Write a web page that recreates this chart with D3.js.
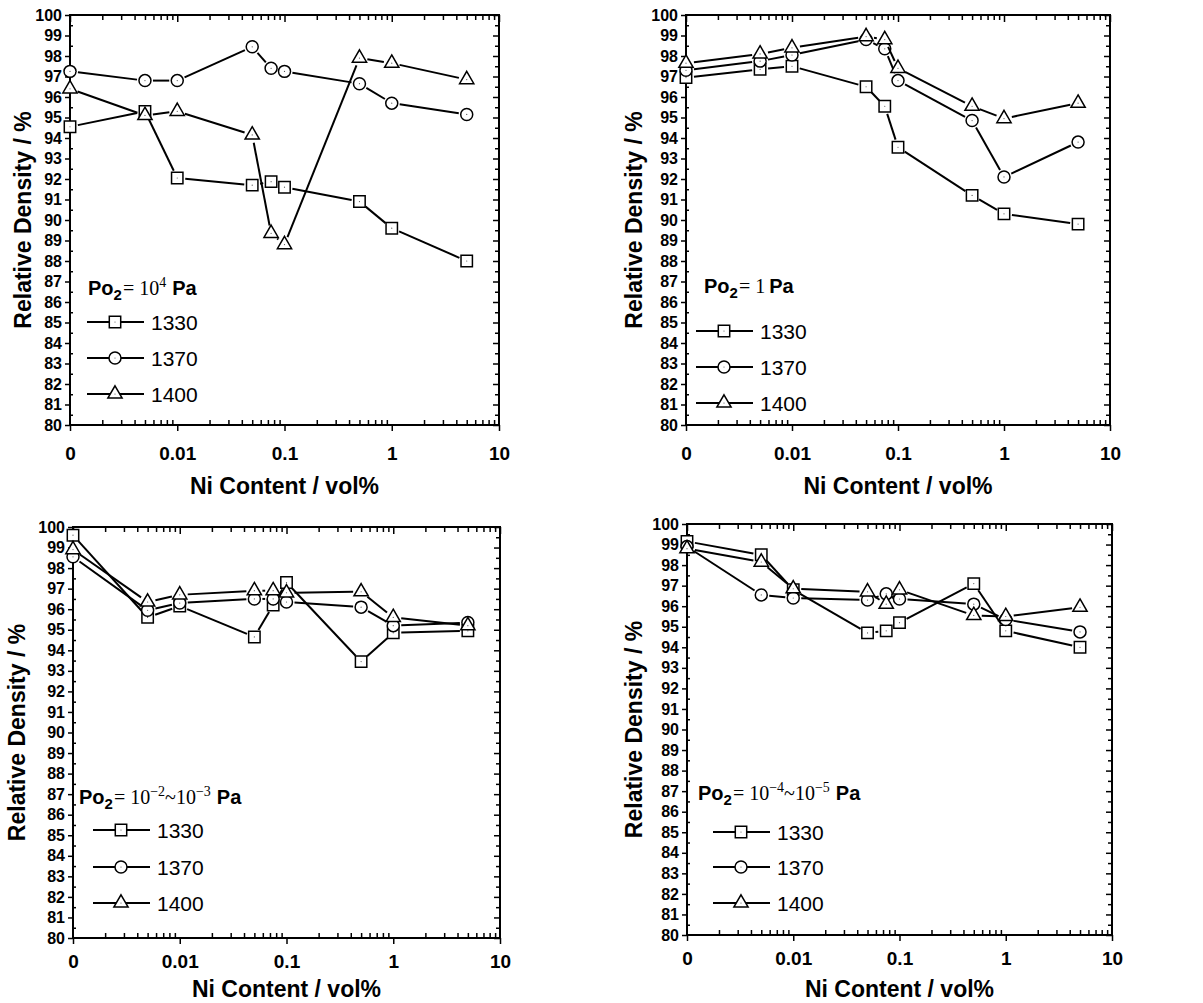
<!DOCTYPE html>
<html lang="en">
<head>
    <meta charset="UTF-8">
    <title>Relative Density vs Ni Content</title>
    <script src="https://d3js.org/d3.v7.min.js"></script>
    <style>
        body { margin: 0; background: #fff; }
        svg { display: block; }
        .tick text { font-family: "Liberation Sans", Arial, sans-serif; font-weight: bold; fill: #000; }
    </style>
</head>
<body>
    <div id="chart"></div>

    <script>
        // Ni content (vol%); 0 is drawn at the left edge (0.001 on the log axis)
        const niContent = [0, 0.005, 0.01, 0.05, 0.075, 0.1, 0.5, 1, 5];
        const temperatures = ["1330", "1370", "1400"];
        const xTickValues = [0.001, 0.01, 0.1, 1, 10];
        const xTickLabels = ["0", "0.01", "0.1", "1", "10"];
        const yTickValues = d3.range(80, 101, 1);

        // Po2 = 10^4 Pa
        const hi_1330 = [94.55, 95.3, 92.05, 91.7, 91.87, 91.6, 90.9, 89.6, 88.0];
        const hi_1370 = [97.25, 96.8, 96.8, 98.45, 97.4, 97.25, 96.65, 95.7, 95.15];
        const hi_1400 = [96.4, 95.1, 95.3, 94.15, 89.35, 88.8, 97.9, 97.65, 96.85];

        // Po2 = 1 Pa
        const one_1330 = [96.95, 97.35, 97.5, 96.5, 95.55, 93.55, 91.2, 90.3, 89.8];
        const one_1370 = [97.3, 97.75, 98.05, 98.8, 98.35, 96.8, 94.85, 92.1, 93.8];
        const one_1400 = [97.65, 98.1, 98.4, 98.95, 98.8, 97.4, 95.55, 94.95, 95.7];

        // Po2 = 10^-2 ~ 10^-3 Pa
        const mid_1330 = [99.6, 95.6, 96.15, 94.65, 96.2, 97.3, 93.45, 94.85, 94.95];
        const mid_1370 = [98.55, 95.95, 96.3, 96.5, 96.5, 96.35, 96.1, 95.2, 95.35];
        const mid_1400 = [98.9, 96.35, 96.7, 96.9, 96.9, 96.8, 96.85, 95.6, 95.2];

        // Po2 = 10^-4 ~ 10^-5 Pa
        const low_1330 = [99.15, 98.5, 96.8, 94.7, 94.8, 95.2, 97.1, 94.8, 94.0];
        const low_1370 = [98.9, 96.55, 96.4, 96.3, 96.6, 96.35, 96.1, 95.35, 94.75];
        const low_1400 = [98.8, 98.15, 96.85, 96.7, 96.1, 96.8, 95.55, 95.5, 95.95];

        const sans = "'Liberation Sans', Arial, sans-serif";
        const serif = "'Liberation Serif', 'Times New Roman', serif";

        const panels = [
            {
                left: 70, right: 499, top: 15, bottom: 425,
                series: [hi_1330, hi_1370, hi_1400],
                title: ["10", "4", "", ""], titleX: 88, titleY: 295,
                legX: 87, legYs: [322, 358, 394],
                tickPad: 16, xLabelY: 494, yLabelX: 31
            },
            {
                left: 686, right: 1110, top: 15, bottom: 425,
                series: [one_1330, one_1370, one_1400],
                title: ["1", "", "", ""], titleX: 704, titleY: 293,
                legX: 696, legYs: [331, 367, 403],
                tickPad: 16, xLabelY: 494, yLabelX: 642
            },
            {
                left: 73, right: 500, top: 527, bottom: 938,
                series: [mid_1330, mid_1370, mid_1400],
                title: ["10", "\u22122", "~10", "\u22123"], titleX: 79, titleY: 804,
                legX: 93, legYs: [830, 867, 903],
                tickPad: 11, xLabelY: 997, yLabelX: 25
            },
            {
                left: 687, right: 1112, top: 524, bottom: 935,
                series: [low_1330, low_1370, low_1400],
                title: ["10", "\u22124", "~10", "\u22125"], titleX: 698, titleY: 800,
                legX: 713, legYs: [832, 867, 903],
                tickPad: 11, xLabelY: 997, yLabelX: 642
            }
        ];

        const symbols = [
            d3.symbol().type(d3.symbolSquare).size(130),
            d3.symbol().type(d3.symbolCircle).size(113),
            d3.symbol().type(d3.symbolTriangle).size(88)
        ];

        const svg = d3.select("#chart")
            .append("svg")
            .attr("width", 1203)
            .attr("height", 1003);

        svg.append("rect").attr("width", 1203).attr("height", 1003).attr("fill", "#fff");

        // minor x ticks: 2..9 within every decade
        const xMinor = [];
        [0.001, 0.01, 0.1, 1].forEach(d => {
            for (let k = 2; k <= 9; k++) xMinor.push(d * k);
        });
        const yMinor = d3.range(80.5, 100, 1);

        function drawMarker(g, i, x, y) {
            g.append("path")
                .attr("d", symbols[i]())
                .attr("transform", `translate(${x},${y})`)
                .attr("fill", "#fff")
                .attr("stroke", "#000")
                .attr("stroke-width", 1.5);
            g.append("circle")
                .attr("cx", x).attr("cy", y).attr("r", 0.6)
                .attr("fill", "#555");
        }

        panels.forEach(p => {
            const x = d3.scaleLog().domain([0.001, 10]).range([p.left, p.right]);
            const y = d3.scaleLinear().domain([80, 100]).range([p.bottom, p.top]);
            const g = svg.append("g");

            // axes
            g.append("g")
                .attr("transform", `translate(0,${p.bottom})`)
                .call(d3.axisBottom(x).tickValues(xTickValues).tickSize(6).tickPadding(p.tickPad)
                    .tickFormat((d, i) => xTickLabels[i]))
                .call(a => a.selectAll("text").style("font-size", "19px"));
            g.append("g")
                .attr("transform", `translate(0,${p.bottom})`)
                .call(d3.axisBottom(x).tickValues(xMinor).tickSize(-5).tickFormat(""));
            g.append("g")
                .attr("transform", `translate(0,${p.top})`)
                .call(d3.axisTop(x).tickValues(xTickValues).tickSize(-7).tickFormat(""));
            g.append("g")
                .attr("transform", `translate(0,${p.top})`)
                .call(d3.axisTop(x).tickValues(xMinor).tickSize(-5).tickFormat(""));
            g.append("g")
                .attr("transform", `translate(${p.left},0)`)
                .call(d3.axisLeft(y).tickValues(yTickValues).tickSize(5).tickPadding(3))
                .call(a => a.selectAll("text").style("font-size", "16px"));
            g.append("g")
                .attr("transform", `translate(${p.left},0)`)
                .call(d3.axisLeft(y).tickValues(yMinor).tickSize(-3).tickFormat(""));
            g.append("g")
                .attr("transform", `translate(${p.right},0)`)
                .call(d3.axisRight(y).tickValues(yTickValues).tickSize(-6).tickFormat(""));
            g.append("g")
                .attr("transform", `translate(${p.right},0)`)
                .call(d3.axisRight(y).tickValues(yMinor).tickSize(-4).tickFormat(""));

            g.selectAll(".domain").remove();
            g.selectAll(".tick line").attr("stroke", "#000").attr("stroke-width", 1.5);

            g.append("rect")
                .attr("x", p.left).attr("y", p.top)
                .attr("width", p.right - p.left).attr("height", p.bottom - p.top)
                .attr("fill", "none").attr("stroke", "#000").attr("stroke-width", 2);

            // axis titles
            g.append("text")
                .attr("x", (p.left + p.right) / 2).attr("y", p.xLabelY)
                .attr("text-anchor", "middle")
                .style("font-family", sans).style("font-weight", "bold").style("font-size", "23px")
                .text("Ni Content / vol%");
            g.append("text")
                .attr("transform", `translate(${p.yLabelX},${(p.top + p.bottom) / 2}) rotate(-90)`)
                .attr("text-anchor", "middle")
                .style("font-family", sans).style("font-weight", "bold").style("font-size", "23px")
                .text("Relative Density / %");

            // data: segments stop short of the markers
            const trim = 8;
            p.series.forEach((vals, si) => {
                const pts = niContent.map((c, i) => [x(c === 0 ? 0.001 : c), y(vals[i])]);
                for (let i = 0; i < pts.length - 1; i++) {
                    const [x1, y1] = pts[i], [x2, y2] = pts[i + 1];
                    const len = Math.hypot(x2 - x1, y2 - y1);
                    if (len <= 2 * trim) continue;
                    const ux = (x2 - x1) / len, uy = (y2 - y1) / len;
                    g.append("line")
                        .attr("x1", x1 + ux * trim).attr("y1", y1 + uy * trim)
                        .attr("x2", x2 - ux * trim).attr("y2", y2 - uy * trim)
                        .attr("stroke", "#000").attr("stroke-width", 2);
                }
                pts.forEach(([px, py]) => drawMarker(g, si, px, py));
            });

            // legend title: Po2 = ... Pa
            const t = g.append("text")
                .attr("x", p.titleX).attr("y", p.titleY)
                .style("font-size", "20px");
            t.append("tspan").style("font-family", sans).style("font-weight", "bold").text("Po");
            t.append("tspan").style("font-family", sans).style("font-weight", "bold")
                .style("font-size", "15px").attr("dy", 5).text("2");
            t.append("tspan").style("font-family", serif).attr("dy", -5).attr("dx", 1).text("= " + p.title[0]);
            if (p.title[1]) {
                t.append("tspan").style("font-family", serif).style("font-size", "14px")
                    .attr("dy", -8).text(p.title[1]);
                if (p.title[2]) {
                    t.append("tspan").style("font-family", serif).attr("dy", 8).text(p.title[2]);
                    t.append("tspan").style("font-family", serif).style("font-size", "14px")
                        .attr("dy", -8).text(p.title[3]);
                }
                t.append("tspan").style("font-family", sans).style("font-weight", "bold")
                    .attr("dy", 8).attr("dx", 6).text("Pa");
            } else {
                t.append("tspan").style("font-family", sans).style("font-weight", "bold")
                    .attr("dx", 4).text("Pa");
            }

            // legend entries
            temperatures.forEach((name, i) => {
                const ly = p.legYs[i];
                g.append("line")
                    .attr("x1", p.legX).attr("x2", p.legX + 57)
                    .attr("y1", ly).attr("y2", ly)
                    .attr("stroke", "#000").attr("stroke-width", 2);
                drawMarker(g, i, p.legX + 28, ly);
                g.append("text")
                    .attr("x", p.legX + 64).attr("y", ly).attr("dy", "0.36em")
                    .style("font-family", sans).style("font-size", "21px")
                    .text(name);
            });
        });
    </script>
</body>
</html>
